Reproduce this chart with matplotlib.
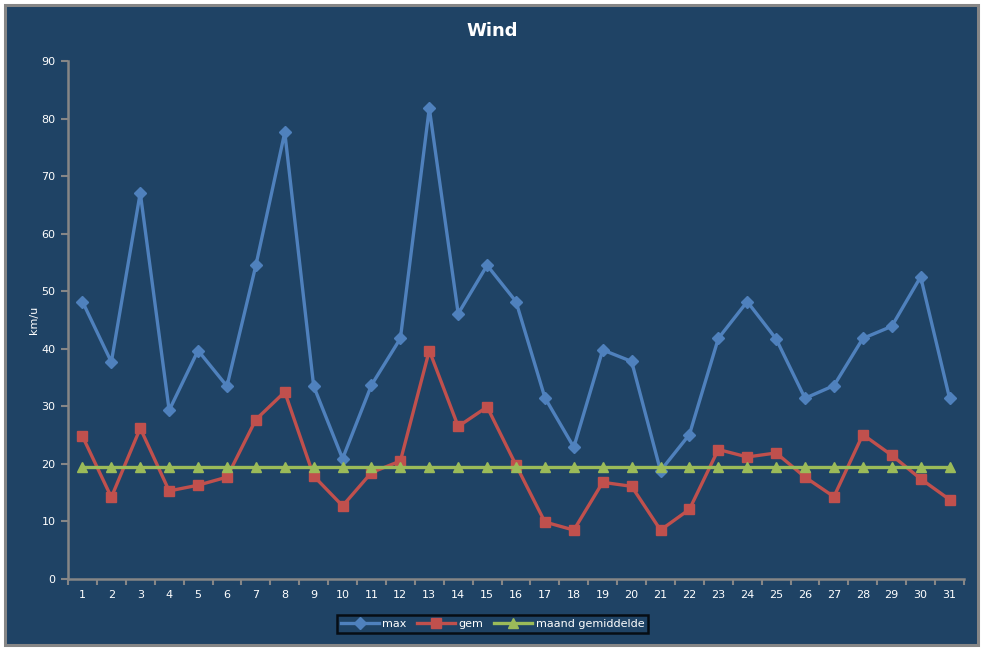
import matplotlib
matplotlib.use("Agg")
import matplotlib.pyplot as plt
from matplotlib.patches import Rectangle
from matplotlib.ticker import FixedLocator

days = list(range(1, 32))
max_wind = [48.2, 37.7, 67.1, 29.3, 39.7, 33.5, 54.5, 77.6, 33.5, 20.9,
            33.7, 41.8, 81.8, 46.1, 54.5, 48.2, 31.5, 22.9, 39.8, 37.8,
            18.8, 25.1, 41.8, 48.2, 41.7, 31.4, 33.6, 41.8, 43.9, 52.5, 31.4]
gem_wind = [24.8, 14.2, 26.2, 15.3, 16.3, 17.7, 27.7, 32.5, 17.9, 12.7,
            18.5, 20.5, 39.7, 26.5, 29.9, 19.8, 9.9, 8.5, 16.8, 16.1,
            8.5, 12.1, 22.5, 21.2, 21.9, 17.7, 14.3, 25.1, 21.5, 17.4, 13.8]
maand_gem = [19.4] * 31
series_names = ["max", "gem", "maand gemiddelde"]

W, H = 987, 648
bg = "#1F4365"
grey = "#868686"
fig = plt.figure(figsize=(W / 100, H / 100), dpi=100)
fig.patch.set_facecolor("white")
fig.patches.append(Rectangle((5 / W, 3 / H), 973 / W, 640 / H, transform=fig.transFigure,
                             facecolor=bg, edgecolor=grey, linewidth=2.2, zorder=-10))

ax = fig.add_axes([68 / W, (H - 579) / H, (964 - 68) / W, (579 - 61) / H])
ax.patch.set_alpha(0)

lw = 2.4
ax.plot(days, max_wind, color="#4F81BD", lw=lw, marker="D", ms=6.5, label=series_names[0], zorder=3)
ax.plot(days, gem_wind, color="#C0504D", lw=lw, marker="s", ms=7, label=series_names[1], zorder=3)
ax.plot(days, maand_gem, color="#9BBB59", lw=lw, marker="^", ms=7.5, label=series_names[2], zorder=3)

ax.set_xlim(0.5, 31.5)
ax.set_ylim(0, 90)
ax.set_yticks(range(0, 91, 10))
ax.set_xticks(days)
ax.xaxis.set_minor_locator(FixedLocator([d + 0.5 for d in range(0, 32)]))
for s in ["top", "right"]:
    ax.spines[s].set_visible(False)
for s in ["left", "bottom"]:
    ax.spines[s].set_color(grey)
    ax.spines[s].set_linewidth(1.8)
ax.tick_params(axis="x", which="major", length=0, pad=8, labelsize=8, colors="white")
ax.tick_params(axis="x", which="minor", length=4, width=1.5, color=grey, direction="out")
ax.tick_params(axis="y", which="major", length=5, width=1.5, color=grey, pad=4, labelsize=8, labelcolor="white")

ax.set_ylabel("km/u", color="white", fontsize=8, labelpad=2)
fig.text(492 / W, 1 - 31 / H, "Wind", color="white", fontsize=13, fontweight="bold",
         ha="center", va="center")

leg = ax.legend(loc="center", bbox_to_anchor=(((344 + 641) / 2 - 68) / (964 - 68), -(624 - 579) / (579 - 61)),
                ncol=3, frameon=True, fontsize=8, handlelength=3.4, columnspacing=1.0,
                handletextpad=0.3, borderpad=0.35, labelcolor="white")
leg.get_frame().set_facecolor(bg)
leg.get_frame().set_edgecolor("black")
leg.get_frame().set_linewidth(1.8)
leg.get_frame().set_boxstyle("square", pad=0)

fig.savefig("out.png", dpi=100, facecolor=fig.get_facecolor())
